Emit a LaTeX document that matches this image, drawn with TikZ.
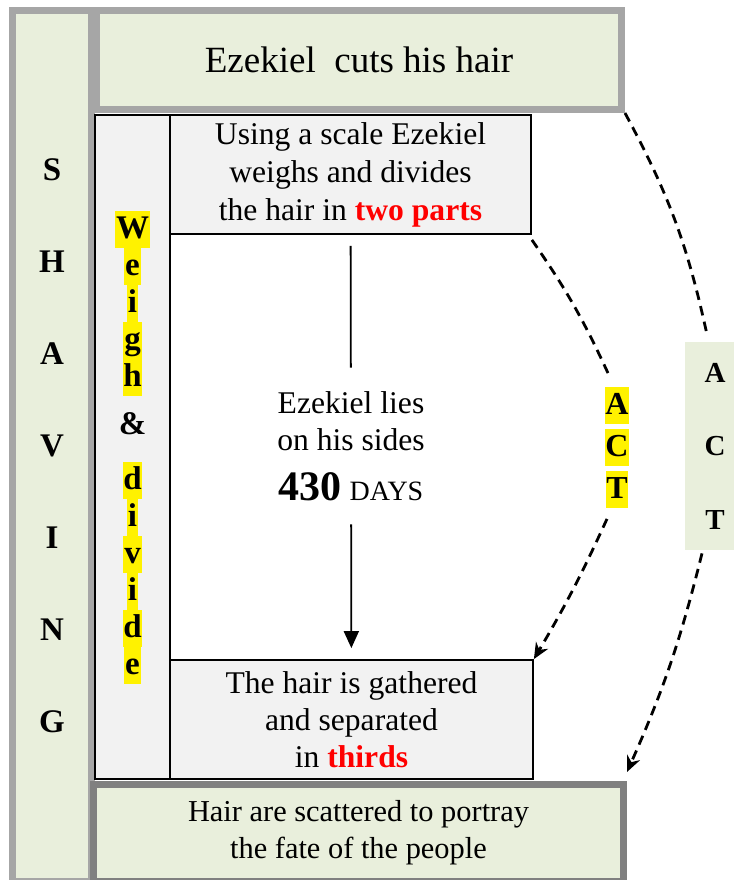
\documentclass[tikz,border=0pt]{standalone}
\usepackage{fontspec}
\setmainfont{Liberation Serif}
\usetikzlibrary{arrows.meta}
\definecolor{leaf}{RGB}{233,239,220}
\definecolor{frame}{RGB}{166,166,166}
\definecolor{darkframe}{RGB}{128,128,128}
\definecolor{paper}{RGB}{242,242,242}
\newcommand{\yel}[1]{{\setlength{\fboxsep}{0pt}\colorbox{yellow}{\rule[-4.5pt]{0pt}{18.5pt}\kern0.4pt#1\kern0.4pt}}}

\begin{document}
\begin{tikzpicture}[x=0.5pt,y=-0.5pt,
    greenbox/.style={draw=frame,line width=3.5pt,fill=leaf,inner sep=0pt,align=center},
    greybox/.style={draw=black,line width=0.9pt,fill=paper,inner sep=0pt,align=center},
    actline/.style={dash pattern=on 4.8pt off 3.2pt,line width=1.4pt}]
          \useasboundingbox (0,0) rectangle (734,880);
          \node[greenbox,minimum width=39.5pt,minimum height=435.5pt,font=\bfseries\fontsize{16.5}{46}\selectfont] (shave) at (52,446) {S\\H\\A\\V\\I\\N\\G};
          \node[greenbox,minimum width=262.5pt,minimum height=49.5pt,font=\fontsize{18.5}{22}\selectfont] (cuts) at (359,60) {\raisebox{-2pt}{Ezekiel\ \ cuts his hair}};
          \node[greybox,minimum width=37.5pt,minimum height=332pt,font=\bfseries\fontsize{16.5}{18.5}\selectfont] (weigh) at (132.5,447)
               {\yel{W}\\\yel{e}\\\yel{i}\\\yel{g}\\\yel{h}\\[5.5pt]\&\\[9pt]\yel{d}\\\yel{i}\\\yel{v}\\\yel{i}\\\yel{d}\\\yel{e}};
          \node[greybox,minimum width=180.5pt,minimum height=59.5pt,font=\fontsize{15.8}{19}\selectfont] (scale) at (350.5,174.5)
               {Using a scale Ezekiel\\weighs and divides\\the hair in \textcolor{red}{\textbf{two parts}}};
          \node[greybox,minimum width=181.5pt,minimum height=59.5pt,font=\fontsize{15.8}{18.5}\selectfont] (gather) at (351.5,719.5)
               {The hair is gathered\\and separated\\in \textcolor{red}{\textbf{thirds}}};
          \node[greenbox,draw=darkframe,minimum width=265pt,minimum height=48.5pt,font=\fontsize{15.2}{18.5}\selectfont] (scatter) at (358.5,833)
               {Hair are scattered to portray\\the fate of the people};
          \node[align=center,inner sep=0pt,minimum height=78pt,font=\fontsize{15.8}{18.5}\selectfont] (lies) at (351,446)
               {Ezekiel lies\\on his sides\\[6.5pt]{\bfseries\fontsize{21}{21}\selectfont 430} {\fontsize{14}{14}\selectfont DAYS}};
          \node[inner sep=0pt,align=center,font=\bfseries\fontsize{16}{21}\selectfont] (actin) at (617,447) {\yel{A}\\\yel{C}\\\yel{T}};
          \node[fill=leaf,inner sep=0pt,minimum width=30pt,minimum height=104pt,align=center,font=\bfseries\fontsize{14.5}{36.75}\selectfont] (actout) at (715,446) {A\\C\\T};
          \draw[line width=0.9pt,shorten <=5.5pt] (scale) -- (lies);
          \draw[line width=0.9pt,-{Triangle[length=8.5pt,width=7.5pt]},shorten >=5.5pt] (lies) -- (gather);
          \draw[actline] (cuts.south east) to[bend left=8] ([xshift=-4pt,yshift=3.5pt]actout.north);
          \draw[actline,-{Stealth[length=8pt,width=7pt]}] ([xshift=-6.5pt,yshift=-1.5pt]actout.south) to[bend left=5] ([yshift=4.5pt]scatter.north east);
          \draw[actline] ([yshift=-2.5pt]scale.south east) to[bend left=5] ([xshift=-4.5pt,yshift=6.5pt]actin.north);
          \draw[actline,-{Stealth[length=8pt,width=7pt]}] ([xshift=-5pt,yshift=-5.5pt]actin.south) to[bend left=3] (gather.north east);
\end{tikzpicture}
\end{document}
